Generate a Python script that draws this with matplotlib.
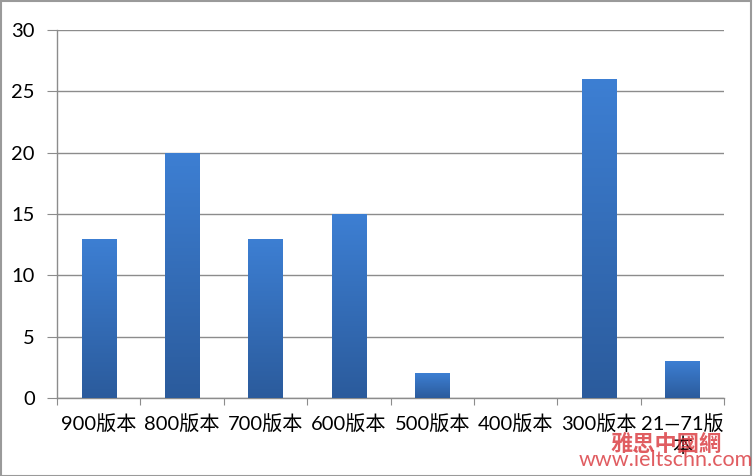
import matplotlib
matplotlib.use("Agg")
import matplotlib.pyplot as plt
import numpy as np
from matplotlib.colors import LinearSegmentedColormap
from matplotlib.patches import Rectangle

plt.rcParams["font.family"] = ["Lato", "Noto Sans CJK SC", "DejaVu Sans"]

categories = ["900版本", "800版本", "700版本", "600版本", "500版本",
              "400版本", "300版本", "21—71版\n本"]
values = [13, 20, 13, 15, 2, 0, 26, 3]
yticks = [0, 5, 10, 15, 20, 25, 30]

GRID = "#8c8c8c"
bar_cmap = LinearSegmentedColormap.from_list("bar", ["#2b5b9c", "#3d7fd3"])

fig = plt.figure(figsize=(7.53, 4.76), dpi=100)
fig.patches.append(Rectangle((0.001, 0.001), 0.997, 0.996, transform=fig.transFigure,
                             fill=False, edgecolor="#9a9a9a", linewidth=1.5))
ax = fig.add_axes([0.0757, 0.1639, 0.886, 0.773])

x = np.arange(len(categories))
bars = ax.bar(x, values, width=0.41, color="none", zorder=3)
grad = np.linspace(0, 1, 256).reshape(-1, 1)
for b in bars:
    h = b.get_height()
    if h <= 0:
        continue
    x0 = b.get_x()
    im = ax.imshow(grad, cmap=bar_cmap, origin="lower", aspect="auto",
                   extent=(x0, x0 + b.get_width(), 0, h), zorder=3)
    im.set_clip_path(b)

ax.set_xlim(-0.5, len(categories) - 0.5)
ax.set_ylim(0, 30)
ax.set_yticks(yticks)
ax.yaxis.grid(True, color=GRID, linewidth=1, zorder=0)
ax.set_axisbelow(True)

ax.set_xticks(np.arange(len(categories) + 1) - 0.5, minor=False)
ax.set_xticklabels([])
ax.set_xticks(x, minor=True)
ax.set_xticklabels(categories, minor=True, fontsize=14.5, va="top", linespacing=1.15)
ax.tick_params(axis="x", which="minor", length=0, pad=12)
ax.tick_params(axis="x", which="major", length=5, color=GRID, direction="out")
ax.tick_params(axis="y", length=7, color=GRID, labelsize=14.5, pad=9)

for s in ["top", "right"]:
    ax.spines[s].set_visible(False)
for s in ["left", "bottom"]:
    ax.spines[s].set_color(GRID)
    ax.spines[s].set_linewidth(1)

# watermark
fig.text(0.884, 0.045, "雅思中國網", color="#d9343a", alpha=0.8, fontsize=16,
         ha="center", va="bottom", fontweight="bold")
fig.text(0.884, 0.012, "www.ieltschn.com", color="#d9343a", alpha=0.8, fontsize=15.5,
         ha="center", va="bottom")

fig.savefig("out.png", dpi=100)
